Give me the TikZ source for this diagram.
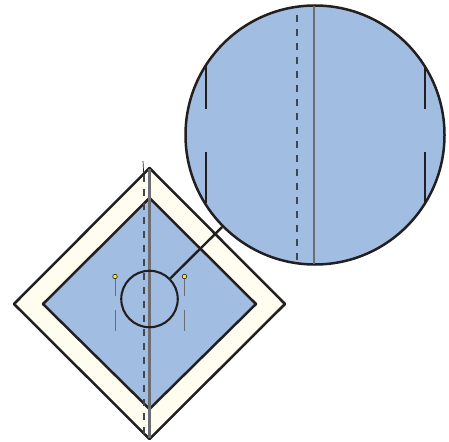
\documentclass[tikz,border=0pt]{standalone}
\usepackage{xcolor}
\definecolor{ink}{HTML}{231F20}
\definecolor{fabric}{HTML}{A1BDE2}
\definecolor{cream}{HTML}{FFFDF0}
\definecolor{fold}{HTML}{6D6E71}
\definecolor{pinhead}{HTML}{FFF200}
\definecolor{stitch}{HTML}{3F4650}
\begin{document}
\begin{tikzpicture}[
  x=1pt,y=-1pt,
  border/.style={draw=ink,line width=2.5pt,line join=round},
  foldline/.style={draw=fold,line width=2.6pt},
  stitchline/.style={draw=stitch,line width=1.1pt,dash pattern=on 7pt off 7pt},
  sideline/.style={draw=ink,line width=1.7pt},
  pinline/.style={draw=fold,line width=.8pt},
  lens/.style={circle,draw=ink,line width=2.1pt,inner sep=0pt,minimum size=#1},
  pinhead/.style={circle,draw=ink,line width=.6pt,fill=pinhead,inner sep=0pt,minimum size=4.5pt}
]
\useasboundingbox (0,0) rectangle (449,441);

% Square on point
\filldraw[border,fill=cream] (149.5,168) -- (285,304) -- (149.5,439) -- (14,304) -- cycle;
\filldraw[border,fill=fabric] (149.5,198) -- (256,304) -- (149.5,409) -- (43,304) -- cycle;

% Seam and fold
\coordinate (marktop) at (143,161);
\coordinate (markend) at (143.6,172);
\coordinate (seamtop) at (144,175);
\coordinate (seamend) at (144,436);
\coordinate (foldtop) at (149.5,169);
\coordinate (foldend) at (149.5,438);
\draw[draw=ink,line width=.7pt] (marktop) -- (markend);
\draw[stitchline] (seamtop) -- (seamend);
\draw[foldline] (foldtop) -- (foldend);

% Pins
\node[pinhead] (pinleft) at (115,276.5) {};
\node[pinhead] (pinright) at (184.5,276.5) {};
\foreach \n/\x in {a/115.5,b/184.5} {
  \coordinate (\n1) at (\x,279);
  \coordinate (\n2) at (\x,296);
  \coordinate (\n3) at (\x,310);
  \coordinate (\n4) at (\x,331);
  \draw[pinline] (\n1) -- (\n2);
  \draw[pinline] (\n3) -- (\n4);
}

% Detail circle
\node[lens=56.5pt] (detail) at (149.5,299) {};
\node[lens=259pt,fill=fabric,line width=2.5pt] (zoomed) at (315,135) {};
\draw[draw=ink,line width=2.4pt] (detail) -- (zoomed);

% Inside the enlarged view
\coordinate (zoomtop) at (313.8,6);
\coordinate (zoomend) at (313.8,264);
\coordinate (zseamtop) at (297,15);
\coordinate (zseamend) at (297,260);
\draw[foldline] (zoomtop) -- (zoomend);
\draw[stitchline] (zseamtop) -- (zseamend);
\foreach \n/\x in {l/205.7,r/425.3} {
  \coordinate (\n1) at (\x,66);
  \coordinate (\n2) at (\x,108.5);
  \coordinate (\n3) at (\x,152);
  \coordinate (\n4) at (\x,203);
  \draw[sideline] (\n1) -- (\n2);
  \draw[sideline] (\n3) -- (\n4);
}
\end{tikzpicture}
\end{document}
